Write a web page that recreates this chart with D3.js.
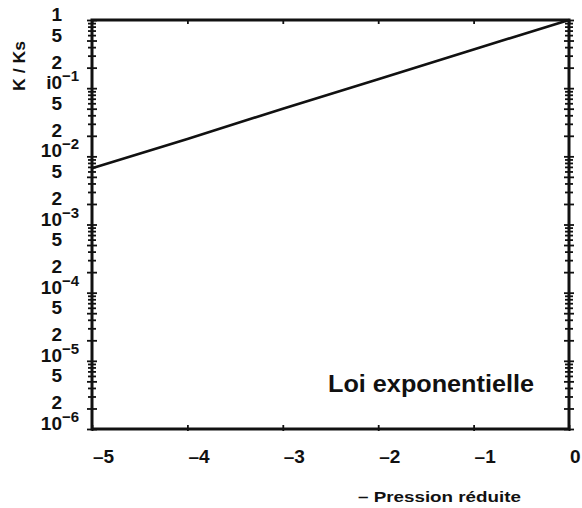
<!DOCTYPE html>
<html>
<head>
<meta charset="utf-8">
<script src="https://cdn.jsdelivr.net/npm/d3@7"></script>
<style>
  html, body { margin: 0; padding: 0; background: #fff; }
  svg { display: block; }
  text { fill: #111; }
</style>
</head>
<body>
<svg id="chart" width="582" height="508"></svg>
<script>
// ---- data ----
const pressure = [-5, -4, -3, -2, -1, 0];
const kRatio = [0.0067, 0.018, 0.05, 0.135, 0.37, 1];
const xTickValues = [-5, -4, -3, -2, -1, 0];
const xTickLabels = ["-5", "-4", "-3", "-2", "-1", "0"];
const yLabelValues = [1, 0.5, 0.2, 1e-1, 5e-2, 2e-2, 1e-2, 5e-3, 2e-3, 1e-3, 5e-4, 2e-4, 1e-4, 5e-5, 2e-5, 1e-5, 5e-6, 2e-6, 1e-6];
const yLabelMain = ["1", "5", "2", "i0", "5", "2", "10", "5", "2", "10", "5", "2", "10", "5", "2", "10", "5", "2", "10"];
const yLabelSup = ["", "", "", "-1", "", "", "-2", "", "", "-3", "", "", "-4", "", "", "-5", "", "", "-6"];
const xTitle = "– Pression réduite";
const yTitle = "K / Ks";
const annotation = "Loi exponentielle";

// ---- layout ----
const L = 92, R = 569, T = 20, B = 429;
const svg = d3.select("#chart");
const x = d3.scaleLinear().domain([-5, 0]).range([L, R]);
const y = d3.scaleLog().domain([1e-6, 1]).range([B, T]);

// minor ticks 1..9 per decade
const yTicks = [];
for (let e = -6; e < 0; e++) for (let m = 1; m < 10; m++) yTicks.push(m * Math.pow(10, e));
yTicks.push(1);
const mant = v => Math.round(v / Math.pow(10, Math.floor(Math.log10(v) + 1e-9)));
const yMajor = yTicks.filter(v => [1, 2, 5].includes(mant(v)));
const yMinor = yTicks.filter(v => !yMajor.includes(v));

function styleAxis(g) {
  g.select(".domain").remove();
  g.selectAll("line").attr("stroke", "#111").attr("stroke-width", 1.8);
  g.selectAll("text").remove();
}

[[yMinor, 4], [yMajor, 5]].forEach(([vals, len]) => {
  [L, R].forEach(px => {
    svg.append("g").attr("transform", `translate(${px},0)`)
      .call(d3.axisLeft(y).tickValues(vals).tickSize(len)).call(styleAxis);
    svg.append("g").attr("transform", `translate(${px},0)`)
      .call(d3.axisRight(y).tickValues(vals).tickSize(len)).call(styleAxis);
  });
});

// x ticks bottom/top
svg.append("g").attr("transform", `translate(0,${B})`)
  .call(d3.axisTop(x).tickValues(xTickValues).tickSize(4)).call(styleAxis);
svg.append("g").attr("transform", `translate(0,${B})`)
  .call(d3.axisBottom(x).tickValues(xTickValues).tickSize(2)).call(styleAxis);
svg.append("g").attr("transform", `translate(0,${T})`)
  .call(d3.axisBottom(x).tickValues(xTickValues).tickSize(4)).call(styleAxis);

// frame
svg.append("rect").attr("x", L).attr("y", T).attr("width", R - L).attr("height", B - T)
  .attr("fill", "none").attr("stroke", "#111").attr("stroke-width", 3);

// data line
const line = d3.line().x((d, i) => x(pressure[i])).y(d => y(d));
svg.append("path").datum(kRatio).attr("d", line)
  .attr("fill", "none").attr("stroke", "#111").attr("stroke-width", 2.6);

// y labels
const lblFont = "'Liberation Sans', Arial, sans-serif";
yLabelValues.forEach((v, i) => {
  const yy = y(v) + 1;
  svg.append("text").attr("x", 62).attr("y", yy)
    .attr("text-anchor", "end")
    .style("font-family", lblFont).style("font-size", "19px").style("font-weight", "bold")
    .text(yLabelMain[i]);
  if (yLabelSup[i]) {
    svg.append("text").attr("x", 62).attr("y", yy - 8)
      .style("font-family", lblFont).style("font-size", "15px").style("font-weight", "bold")
      .text(yLabelSup[i].replace("-", "−"));
  }
});

// x labels
xTickValues.forEach((v, i) => {
  svg.append("text").attr("x", x(v) + 1).attr("y", 463)
    .attr("text-anchor", "start")
    .style("font-family", lblFont).style("font-size", "19px").style("font-weight", "bold")
    .text(xTickLabels[i].replace("-", "–"));
});

// titles
svg.append("text").attr("x", 358).attr("y", 502)
  .attr("textLength", 163).attr("lengthAdjust", "spacingAndGlyphs")
  .style("font-family", lblFont).style("font-size", "15px").style("font-weight", "bold")
  .text(xTitle);

svg.append("text").attr("transform", "translate(25,66) rotate(-90)")
  .attr("text-anchor", "middle")
  .attr("textLength", 50).attr("lengthAdjust", "spacingAndGlyphs")
  .style("font-family", lblFont).style("font-size", "16px").style("font-weight", "bold")
  .text(yTitle);

svg.append("text").attr("x", 328).attr("y", 392)
  .attr("textLength", 206).attr("lengthAdjust", "spacingAndGlyphs")
  .style("font-family", lblFont).style("font-size", "24px").style("font-weight", "bold")
  .text(annotation);
</script>
</body>
</html>
